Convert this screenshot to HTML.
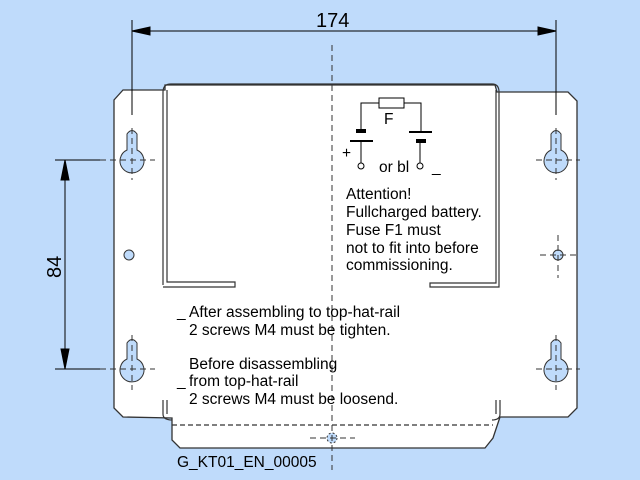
<!DOCTYPE html>
<html><head><style>body{margin:0;background:#bfdbfb}svg{display:block}text{font-family:"Liberation Sans",sans-serif;fill:#000}</style></head><body>
<svg width="640" height="480" viewBox="0 0 640 480">
<rect width="640" height="480" fill="#bfdbfb"/>
<g stroke="#333" stroke-width="1.3" fill="#fff">
<path d="M123,90 L165,90 L165,85 L495,85 L497,92 L568,92 L577,101 L577,408 L568,417 L500,417 L493,438 L485,448 L180,448 L172,440 L172,418 L123,417 L114,408 L114,100 Z"/>
</g>
<g stroke="#333" stroke-width="1.2" fill="none">
<path d="M163,285 L163,92 Q163,84 171,84 L492,84 Q499,84 499,92 L499,287 L430,287 L430,283 L496,283 L496,90"/>
<path d="M167,90 L167,282 L235,282 L235,287 L163,287"/>
<path d="M163,400 L163,414 Q163,420 172,420 M167,400 L167,414 M500,400 L500,414 Q500,420 492,420 M496,400 L496,414"/>
<line x1="172" y1="425" x2="493" y2="425" stroke-dasharray="5,3"/>
</g>
<g fill="#bfdbfb" stroke="#333" stroke-width="1">
<path d="M127,134 Q132,127 137,134 L137,150 A12,12 0 1 1 127,150 Z"/>
<path d="M127,343 Q132,336 137,343 L137,359 A12,12 0 1 1 127,359 Z"/>
<path d="M551,134 Q556,127 561,134 L561,150 A12,12 0 1 1 551,150 Z"/>
<path d="M551,343 Q556,336 561,343 L561,359 A12,12 0 1 1 551,359 Z"/>
<circle cx="129" cy="255" r="5"/>
<circle cx="558" cy="255" r="5"/>
<circle cx="332" cy="438" r="5" stroke-dasharray="2,2"/>
</g>
<g stroke="#333" stroke-width="1" stroke-dasharray="6,4" fill="none">
<line x1="332" y1="45" x2="332" y2="470"/>
<line x1="100" y1="160" x2="155" y2="160"/><line x1="132" y1="128" x2="132" y2="180"/>
<line x1="100" y1="369" x2="155" y2="369"/><line x1="132" y1="335" x2="132" y2="390"/>
<line x1="536" y1="160" x2="580" y2="160"/><line x1="556" y1="128" x2="556" y2="180"/>
<line x1="536" y1="369" x2="580" y2="369"/><line x1="556" y1="335" x2="556" y2="390"/>
<line x1="540" y1="255" x2="580" y2="255"/><line x1="558" y1="235" x2="558" y2="278"/>
<line x1="310" y1="438" x2="355" y2="438"/>
</g>
<g stroke="#000" stroke-width="1" fill="#000">
<line x1="132" y1="20" x2="132" y2="115"/><line x1="556" y1="20" x2="556" y2="115"/>
<line x1="132" y1="31" x2="556" y2="31"/>
<path d="M132,31 L150,27 L150,35 Z M556,31 L538,27 L538,35 Z"/>
<line x1="55" y1="160" x2="100" y2="160"/><line x1="55" y1="369" x2="100" y2="369"/>
<line x1="65" y1="160" x2="65" y2="369"/>
<path d="M65,160 L61,180 L69,180 Z M65,369 L61,349 L69,349 Z"/>
</g>
<text x="316" y="27" font-size="20">174</text>
<text transform="translate(61,278) rotate(-90)" font-size="20">84</text>
<g stroke="#000" stroke-width="1" fill="#fff">
<path d="M361,130 L361,103 L421,103 L421,132" fill="none"/>
<rect x="379" y="98" width="25" height="10"/>
<line x1="361" y1="141" x2="361" y2="163"/><line x1="420" y1="141" x2="420" y2="163"/>
<circle cx="361" cy="166" r="3"/><circle cx="420" cy="166" r="3"/>
</g>
<g fill="#000"><rect x="356" y="129" width="10" height="4"/><rect x="350" y="140" width="23" height="2"/>
<rect x="409" y="131" width="23" height="2"/><rect x="416" y="139" width="10" height="4"/></g>
<g font-size="15.5">
<text x="384" y="124">F</text><text x="342" y="158">+</text><text x="379" y="172">or bl</text><text x="432" y="172">_</text>
<text x="346" y="199">Attention!</text>
<text x="346" y="217">Fullcharged battery.</text>
<text x="346" y="235">Fuse F1 must</text>
<text x="346" y="253">not to fit into before</text>
<text x="346" y="270">commissioning.</text>
<text x="177" y="317">_</text><text x="189" y="317">After assembling to top-hat-rail</text>
<text x="189" y="335">2 screws M4 must be tighten.</text>
<text x="189" y="369">Before disassembling</text>
<text x="177" y="386">_</text><text x="189" y="386">from top-hat-rail</text>
<text x="189" y="404">2 screws M4 must be loosend.</text>
<text x="177" y="467">G_KT01_EN_00005</text>
</g>
</svg>
</body></html>
